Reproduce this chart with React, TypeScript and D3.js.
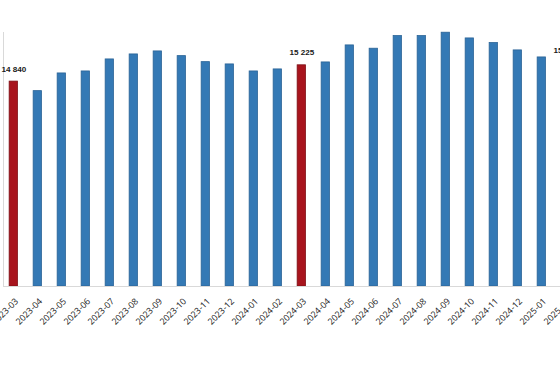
import React from "react";
import * as d3 from "d3";

const months = [
  "2023-03","2023-04","2023-05","2023-06","2023-07","2023-08","2023-09","2023-10",
  "2023-11","2023-12","2024-01","2024-02","2024-03","2024-04","2024-05","2024-06",
  "2024-07","2024-08","2024-09","2024-10","2024-11","2024-12","2025-01","2025-02",
];
const values = [
  14840, 14615, 15033, 15080, 15364, 15482, 15553, 15442,
  15300, 15246, 15080, 15128, 15225, 15293, 15695, 15617,
  15915, 15915, 15995, 15860, 15750, 15577, 15411, 15290,
];
const highlighted = ["2023-03", "2024-03"];
const labelled = ["2023-03", "2024-03", "2025-02"];
const yDomain = [10000, 16000];

const W = 560;
const H = 380;

function fmt(v: number) {
  return d3.format(",")(v).replace(/,/g, " ");
}

export default function App() {
  const x = d3.scaleBand<string>().domain(months).range([1.3, 1.3 + 24 * months.length]).padding(0);
  const y = d3.scaleLinear().domain(yDomain).range([286, 32]);
  const bw = 8.3;
  const base = y(yDomain[0]);

  return (
    <svg width={W} height={H} style={{ position: "absolute", left: 0, top: 0, background: "#fff" }}>
      <line x1={3.5} x2={3.5} y1={y(yDomain[1])} y2={base} stroke="#d9d9d9" strokeWidth={1} />
      {months.map((m, i) => {
        const cx = (x(m) as number) + x.bandwidth() / 2;
        const red = highlighted.includes(m);
        const top = y(values[i]);
        return (
          <g key={m}>
            <rect
              x={cx - bw / 2}
              y={top}
              width={bw}
              height={base - top}
              fill={red ? "#a8141d" : "#3479b5"}
              stroke={red ? "#7d0f15" : "#2a6396"}
              strokeWidth={0.8}
            />
            {labelled.includes(m) && (
              <text
                x={cx + 0.5}
                y={top - 9.5}
                textAnchor="middle"
                fontFamily="Liberation Sans, Arial, sans-serif"
                fontWeight="bold"
                fontSize={8.1}
                fill="#1a1a1a"
              >
                {fmt(values[i])}
              </text>
            )}
            <text
              transform={`translate(${cx + 5.5},${302}) rotate(-45)`}
              textAnchor="end"
              fontFamily="Open Sans, sans-serif"
              fontSize={8.8}
              fill="#1a1a1a"
            >
              {m}
            </text>
          </g>
        );
      })}
      <line x1={3} x2={W} y1={base + 0.5} y2={base + 0.5} stroke="#d9d9d9" strokeWidth={1} />
    </svg>
  );
}
